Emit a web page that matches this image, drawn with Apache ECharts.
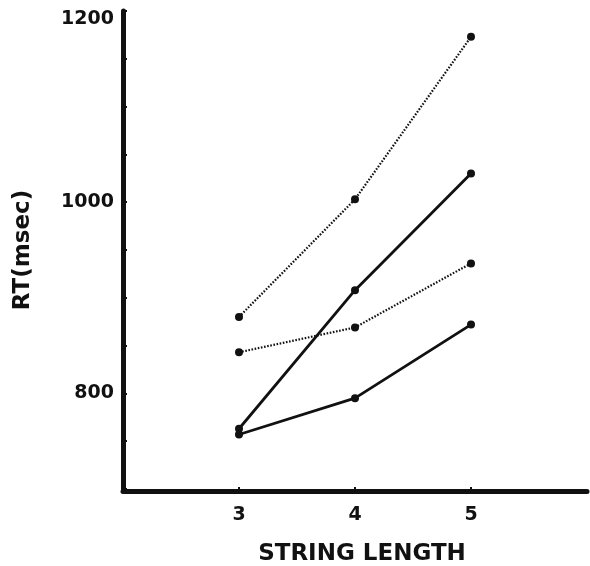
<!DOCTYPE html>
<html>
<head>
<meta charset="utf-8">
<title>RT by string length</title>
<script src="https://cdn.jsdelivr.net/npm/echarts@6/dist/echarts.min.js"></script>
<style>
  html, body { margin: 0; padding: 0; background: #fff; }
  #chart { width: 590px; height: 566px; }
</style>
</head>
<body>
<div id="chart"></div>
<script>
// string lengths on the x axis
const stringLengths = [3, 4, 5];
const xTickValues = [3, 4, 5];
const yTickLabels = [800, 1000, 1200];

// RT (msec) per condition
const dottedUpper = [880, 1003, 1173];
const solidUpper = [763, 908, 1030];
const dottedLower = [843, 869, 936];
const solidLower = [757, 795, 872];

const ink = '#111';
const fontFamily = '"DejaVu Sans", sans-serif';

const pairs = (ys) => stringLengths.map((x, i) => [x, ys[i]]);

const makeSeries = (name, ys, dotted) => ({
  name,
  type: 'line',
  data: pairs(ys),
  symbol: 'circle',
  symbolSize: 8,
  showSymbol: true,
  animation: false,
  itemStyle: { color: ink },
  lineStyle: {
    color: ink,
    width: dotted ? 2.2 : 2.8,
    type: dotted ? [1.6, 1.6] : 'solid'
  }
});

const chart = echarts.init(document.getElementById('chart'), null, { renderer: 'canvas' });

chart.setOption({
  backgroundColor: '#fff',
  animation: false,
  // keep the grid exactly where it is set, labels may sit near the edges
  grid: { left: 123, right: 3, top: 11, bottom: 77, containLabel: false, outerBoundsMode: 'none' },
  xAxis: {
    type: 'value',
    min: 2,
    max: 6,
    interval: 1,
    offset: 2,
    name: 'STRING LENGTH',
    nameLocation: 'middle',
    nameGap: 52,
    nameTextStyle: { color: ink, fontSize: 23, fontWeight: 'bold', fontFamily, padding: [0, 0, 0, 14] },
    axisLine: { show: true, lineStyle: { color: ink, width: 5 } },
    axisTick: { show: true, inside: true, length: 4, customValues: xTickValues, lineStyle: { color: ink, width: 2 } },
    axisLabel: { customValues: xTickValues, color: ink, fontSize: 19, fontWeight: 'bold', fontFamily, margin: 15 },
    splitLine: { show: false }
  },
  yAxis: {
    type: 'value',
    min: 700,
    max: 1200,
    interval: 50,
    name: 'RT(msec)',
    nameLocation: 'middle',
    nameRotate: 90,
    nameGap: 88,
    nameTextStyle: { color: ink, fontSize: 23, fontWeight: 'bold', fontFamily },
    axisLine: { show: true, lineStyle: { color: ink, width: 5 } },
    axisTick: { show: true, inside: true, length: 4, lineStyle: { color: ink, width: 2 } },
    axisLabel: {
      color: ink,
      fontSize: 19,
      fontWeight: 'bold',
      fontFamily,
      margin: 9,
      formatter: (v) => {
        if (!yTickLabels.includes(v)) return '';
        return v === 1200 ? '{top|' + v + '}' : String(v);
      },
      rich: {
        top: { color: ink, fontSize: 19, fontWeight: 'bold', fontFamily, padding: [16, 0, 0, 0] }
      }
    },
    splitLine: { show: false }
  },
  series: [
    makeSeries('dotted upper', dottedUpper, true),
    makeSeries('solid upper', solidUpper, false),
    makeSeries('dotted lower', dottedLower, true),
    makeSeries('solid lower', solidLower, false)
  ]
});
</script>
</body>
</html>
